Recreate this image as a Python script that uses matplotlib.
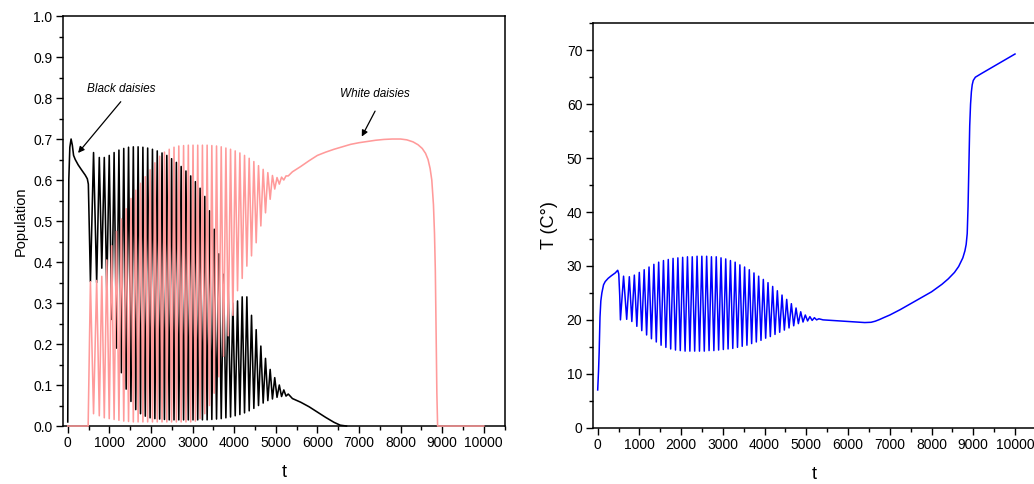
import matplotlib
matplotlib.use('Agg')
import matplotlib.pyplot as plt
from matplotlib.ticker import MultipleLocator, FormatStrFormatter

plt.rcParams['font.family'] = ['Liberation Sans', 'DejaVu Sans']

# ---- shared oscillation times (troughs / peaks of temperature & black daisies) ----
t_lo = [545, 695, 818, 938, 1056, 1172, 1288, 1404, 1519, 1634, 1749, 1864, 1979, 2094,
        2209, 2324, 2439, 2554, 2669, 2784, 2898, 3011, 3124, 3237, 3350, 3463, 3576, 3689,
        3801, 3913, 4025, 4137, 4249, 4361, 4473, 4585, 4697, 4809, 4920, 5030, 5139, 5246]
t_hi = [620, 758, 878, 997, 1114, 1230, 1346, 1461, 1576, 1691, 1806, 1921, 2036, 2151,
        2266, 2381, 2496, 2611, 2726, 2841, 2955, 3068, 3181, 3294, 3407, 3520, 3633, 3745,
        3857, 3969, 4081, 4193, 4305, 4417, 4529, 4641, 4753, 4865, 4975, 5085, 5193, 5300]

# ---- temperature ----
T_pre_t = [0, 20, 35, 55, 75, 100, 140, 180, 250, 330, 420, 480, 505, 528]
T_pre_v = [7.0, 10.5, 14.0, 20.5, 23.5, 25.0, 26.5, 27.1, 27.7, 28.2, 28.7, 29.2, 28.5, 24.5]
T_lo = [20.0, 20.1, 19.7, 18.8, 18.0, 17.2, 16.5, 15.9, 15.3, 14.9, 14.6, 14.4, 14.3, 14.2,
        14.2, 14.2, 14.2, 14.2, 14.3, 14.3, 14.4, 14.5, 14.6, 14.7, 14.9, 15.1, 15.3, 15.6,
        15.9, 16.2, 16.6, 16.9, 17.3, 17.7, 18.1, 18.5, 18.9, 19.3, 19.6, 19.8, 19.9, 20.0]
T_hi = [28.1, 28.0, 28.3, 28.8, 29.3, 29.8, 30.3, 30.7, 31.0, 31.2, 31.4, 31.5, 31.6, 31.7,
        31.7, 31.8, 31.8, 31.8, 31.7, 31.7, 31.5, 31.3, 31.0, 30.7, 30.2, 29.8, 29.3, 28.7,
        28.1, 27.5, 26.9, 26.2, 25.4, 24.6, 23.8, 23.0, 22.2, 21.5, 20.9, 20.6, 20.4, 20.2]
T_post_t = [5400, 5600, 5800, 6000, 6200, 6400, 6550, 6650, 6750, 6850, 7000, 7250, 7500,
            7750, 8000, 8250, 8400, 8550, 8650, 8750, 8800, 8830, 8855, 8875, 8895, 8915,
            8935, 8955, 8975, 9000, 9050, 9200, 10000]
T_post_v = [20.0, 19.9, 19.8, 19.7, 19.6, 19.5, 19.55, 19.75, 20.05, 20.4, 20.9, 21.9, 23.0,
            24.1, 25.2, 26.6, 27.6, 28.8, 29.9, 31.5, 32.8, 34.0, 36.0, 41.0, 49.0, 56.0,
            60.0, 62.3, 63.6, 64.4, 65.0, 65.7, 69.3]

# ---- black daisies ----
B_pre_t = [0, 12, 25, 50, 80, 110, 140, 180, 250, 330, 420, 470, 495]
B_pre_v = [0.01, 0.30, 0.60, 0.68, 0.70, 0.685, 0.66, 0.65, 0.637, 0.625, 0.612, 0.603, 0.59]
B_lo = [0.352, 0.35, 0.385, 0.33, 0.26, 0.19, 0.13, 0.09, 0.06, 0.04, 0.03, 0.024, 0.02, 0.018,
        0.017, 0.016, 0.015, 0.015, 0.015, 0.015, 0.015, 0.015, 0.015, 0.015, 0.015, 0.016,
        0.017, 0.018, 0.02, 0.022, 0.025, 0.028, 0.032, 0.037, 0.043, 0.05, 0.056, 0.062,
        0.066, 0.07, 0.072, 0.073]
B_hi = [0.667, 0.655, 0.655, 0.66, 0.667, 0.673, 0.677, 0.68, 0.681, 0.681, 0.68, 0.678,
        0.675, 0.671, 0.666, 0.66, 0.652, 0.643, 0.633, 0.622, 0.61, 0.596, 0.58, 0.56, 0.525,
        0.48, 0.42, 0.37, 0.33, 0.30, 0.305, 0.315, 0.315, 0.27, 0.235, 0.195, 0.165, 0.138,
        0.118, 0.1, 0.088, 0.078]
B_post_t = [5400, 5600, 5800, 6000, 6200, 6400, 6550, 6700]
B_post_v = [0.067, 0.058, 0.047, 0.034, 0.021, 0.009, 0.002, 0.0]

# ---- white daisies ----
W_pre_t = [0, 490]
W_pre_v = [0.0, 0.0]
W_hi = [0.352, 0.355, 0.365, 0.405, 0.44, 0.475, 0.505, 0.53, 0.555, 0.575, 0.592, 0.608,
        0.625, 0.642, 0.658, 0.668, 0.675, 0.68, 0.683, 0.684, 0.685, 0.685, 0.685, 0.685,
        0.685, 0.684, 0.683, 0.681, 0.678, 0.675, 0.671, 0.666, 0.66, 0.653, 0.645, 0.635,
        0.626, 0.618, 0.611, 0.606, 0.607, 0.61]
W_lo = [0.03, 0.025, 0.02, 0.018, 0.016, 0.014, 0.012, 0.011, 0.01, 0.01, 0.01, 0.01, 0.01,
        0.01, 0.01, 0.01, 0.01, 0.01, 0.01, 0.01, 0.01, 0.012, 0.018, 0.03, 0.05, 0.08, 0.12,
        0.17, 0.22, 0.27, 0.33, 0.36, 0.39, 0.415, 0.447, 0.488, 0.52, 0.553, 0.578, 0.59,
        0.6, 0.61]
W_post_t = [5400, 5600, 5800, 6000, 6200, 6400, 6600, 6800, 7000, 7200, 7400, 7600, 7800,
            8000, 8150, 8300, 8420, 8520, 8600, 8660, 8710, 8750, 8790, 8815, 8835, 8855,
            8872, 8890, 10000]
W_post_v = [0.62, 0.633, 0.647, 0.66, 0.668, 0.675, 0.681, 0.687, 0.691, 0.694, 0.697,
            0.699, 0.70, 0.70, 0.698, 0.693, 0.686, 0.677, 0.665, 0.65, 0.628, 0.6, 0.54,
            0.47, 0.38, 0.22, 0.08, 0.0, 0.0]


def build(pre_t, pre_v, at_lo, at_hi, post_t, post_v):
    t = list(pre_t)
    v = list(pre_v)
    for a, b, va, vb in zip(t_lo, t_hi, at_lo, at_hi):
        t += [a, b]
        v += [va, vb]
    return t + list(post_t), v + list(post_v)


bt, bv = build(B_pre_t, B_pre_v, B_lo, B_hi, B_post_t, B_post_v)
wt, wv = build(W_pre_t, W_pre_v, W_hi, W_lo, W_post_t, W_post_v)
tt, tv = build(T_pre_t, T_pre_v, T_lo, T_hi, T_post_t, T_post_v)

fig = plt.figure(figsize=(10.34, 4.84), dpi=100)
ax1 = fig.add_axes([0.0609, 0.1198, 0.4271, 0.8471])
ax2 = fig.add_axes([0.5732, 0.1163, 0.4286, 0.8356])

ax1.plot(bt, bv, color='black', lw=1.15, zorder=2, clip_on=False)
ax1.plot(wt, wv, color='#FF9A9A', lw=1.15, zorder=3, clip_on=False)
ax2.plot(tt, tv, color='#0000FF', lw=1.1)

for ax in (ax1, ax2):
    ax.set_xlim(-115, 10500)
    ax.xaxis.set_major_locator(MultipleLocator(1000))
    ax.xaxis.set_minor_locator(MultipleLocator(500))
    ax.tick_params(which='major', direction='out', length=5, width=1.0,
                   top=False, right=False, labelsize=10, pad=2.5)
    ax.tick_params(which='minor', direction='out', length=3, width=1.0,
                   top=False, right=False)
    for s in ax.spines.values():
        s.set_linewidth(1.1)
    ax.set_xlabel('t', fontsize=13, labelpad=10)

ax1.set_ylim(0, 1.0)
ax1.yaxis.set_major_locator(MultipleLocator(0.1))
ax1.yaxis.set_minor_locator(MultipleLocator(0.05))
ax1.yaxis.set_major_formatter(FormatStrFormatter('%.1f'))
ax1.set_ylabel('Population', fontsize=10.5, labelpad=4)

ax2.set_xlim(-120, 10500)
ax2.set_ylim(0, 75)
ax2.yaxis.set_major_locator(MultipleLocator(10))
ax2.yaxis.set_minor_locator(MultipleLocator(5))
ax2.set_ylabel('T (C°)', fontsize=13, labelpad=6)

arrow = dict(arrowstyle='-|>', color='black', lw=0.9, mutation_scale=9, shrinkA=0, shrinkB=0)
ax1.annotate('', xy=(248, 0.666), xytext=(1274, 0.791), arrowprops=arrow)
ax1.text(464, 0.822, 'Black daisies', fontsize=8.5, style='italic', va='center', ha='left')
ax1.annotate('', xy=(7067, 0.706), xytext=(7387, 0.768), arrowprops=arrow)
ax1.text(6546, 0.81, 'White daisies', fontsize=8.5, style='italic', va='center', ha='left')

fig.savefig('out.png', dpi=100)
